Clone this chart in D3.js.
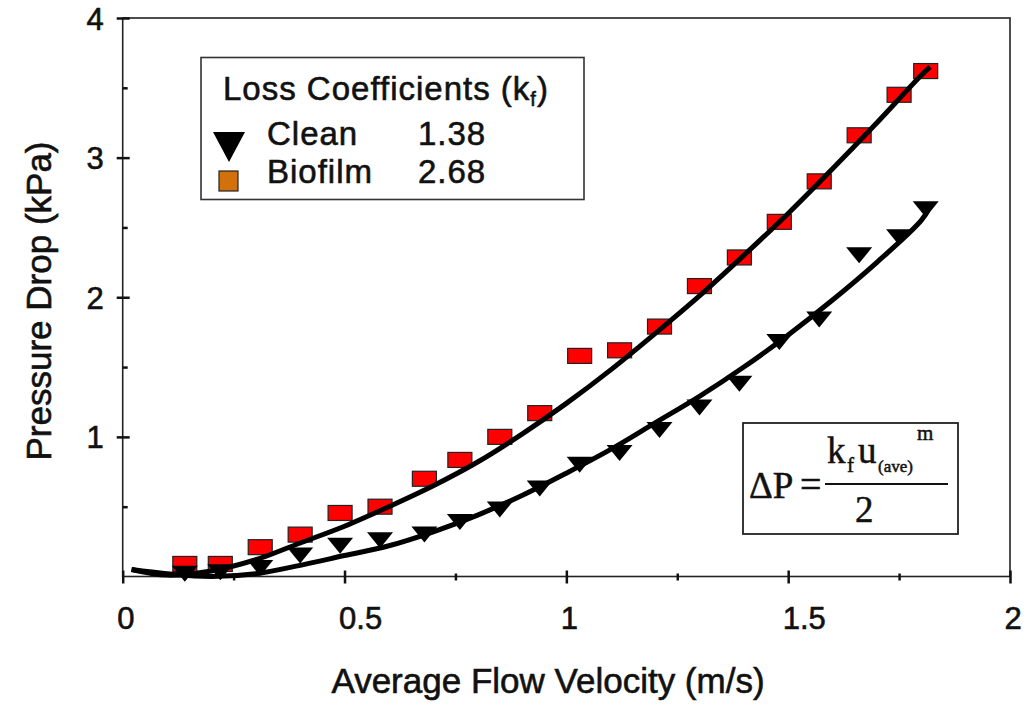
<!DOCTYPE html>
<html>
<head>
<meta charset="utf-8">
<script src="https://cdn.jsdelivr.net/npm/d3@7"></script>
<style>
    body { margin: 0; background: #fff; }
    text { font-family: "Liberation Sans", Arial, sans-serif; fill: #111; stroke: #111; stroke-width: 0.6px; }
    .serif { font-family: "Liberation Serif", "Times New Roman", serif; stroke-width: 0.5px; }
    .legend text { letter-spacing: 1px; }
</style>
</head>
<body>
<div id="chart"></div>
<script>
// measured points (m/s, kPa)
var velocity = [0.14, 0.22, 0.31, 0.40, 0.49, 0.58, 0.68, 0.76, 0.85, 0.94,
    1.03, 1.12, 1.21, 1.30, 1.39, 1.48, 1.57, 1.66, 1.75, 1.81];
var clean = [0.02, 0.03, 0.06, 0.15, 0.22, 0.26, 0.30, 0.39, 0.48, 0.63,
    0.80, 0.885, 1.05, 1.21, 1.38, 1.68, 1.84, 2.30, 2.43, 2.63];
var biofilm = [0.09, 0.09, 0.21, 0.30, 0.455, 0.50, 0.70, 0.835, 1.00, 1.17,
    1.58, 1.62, 1.79, 2.08, 2.285, 2.54, 2.83, 3.16, 3.45, 3.62];

// fitted curves
var fitVelocity = [0.02, 0.10, 0.20, 0.30, 0.40, 0.50, 0.60, 0.70, 0.80, 0.90,
    1.00, 1.10, 1.20, 1.30, 1.40, 1.50, 1.60, 1.70, 1.80, 1.82];
var cleanFit = [0.05, 0.02, 0.00, 0.02, 0.08, 0.15, 0.22, 0.32, 0.44, 0.58,
    0.74, 0.91, 1.10, 1.29, 1.50, 1.73, 1.98, 2.25, 2.55, 2.65];
var biofilmFit = [0.05, 0.01, 0.04, 0.12, 0.24, 0.36, 0.50, 0.65, 0.82, 1.02,
    1.24, 1.48, 1.74, 2.01, 2.30, 2.60, 2.92, 3.25, 3.59, 3.65];

var xMajor = [0, 0.5, 1, 1.5, 2],
    xMinor = [0.25, 0.75, 1.25, 1.75],
    yMajor = [1, 2, 3, 4],
    yMinor = [0.5, 1.5, 2.5, 3.5];

var legendRows = [
    {name: "Clean", k: "1.38"},
    {name: "Biofilm", k: "2.68"}
];

var width = 1034,
    height = 706;

var svg = d3.select("#chart")
    .append("svg")
    .attr("width", width)
    .attr("height", height);

var x = d3.scaleLinear().domain([0, 2]).range([122.7, 1010]);
var y = d3.scaleLinear().domain([0, 4]).range([576.5, 18]);

// frame
svg.append("rect")
    .attr("x", x(0)).attr("y", y(4))
    .attr("width", x(2) - x(0)).attr("height", y(0) - y(4))
    .attr("fill", "none").attr("stroke", "#222").attr("stroke-width", 1.6);

// x axis
var gx = svg.append("g")
    .attr("transform", "translate(0," + y(0) + ")")
    .call(d3.axisBottom(x).tickValues(xMajor).tickSize(6).tickFormat(d3.format("")));
gx.select(".domain").remove();
gx.selectAll("line").attr("y1", -6).attr("y2", 7).attr("stroke", "#111").attr("stroke-width", 2.5);
gx.selectAll("text")
    .attr("dy", null).attr("y", 52).attr("x", -6)
    .attr("text-anchor", "start")
    .style("font-size", "31px").attr("fill", "#111");

var gxm = svg.append("g")
    .attr("transform", "translate(0," + y(0) + ")")
    .call(d3.axisBottom(x).tickValues(xMinor).tickSize(4).tickFormat(""));
gxm.select(".domain").remove();
gxm.selectAll("line").attr("y1", -3).attr("y2", 4).attr("stroke", "#111").attr("stroke-width", 2.5);

// y axis
var gy = svg.append("g")
    .attr("transform", "translate(" + x(0) + ",0)")
    .call(d3.axisLeft(y).tickValues(yMajor).tickSize(6).tickFormat(d3.format("")));
gy.select(".domain").remove();
gy.selectAll("line").attr("x1", -6).attr("x2", 7).attr("stroke", "#111").attr("stroke-width", 2.5);
gy.selectAll("text")
    .attr("dy", null).attr("y", 11).attr("x", -19)
    .style("font-size", "31px").attr("fill", "#111");

var gym = svg.append("g")
    .attr("transform", "translate(" + x(0) + ",0)")
    .call(d3.axisLeft(y).tickValues(yMinor).tickSize(4).tickFormat(""));
gym.select(".domain").remove();
gym.selectAll("line").attr("x1", 0).attr("x2", 5).attr("stroke", "#111").attr("stroke-width", 2.5);

// axis titles
svg.append("text")
    .attr("x", 548).attr("y", 693)
    .attr("text-anchor", "middle")
    .style("font-size", "35px")
    .text("Average Flow Velocity (m/s)");

svg.append("text")
    .attr("transform", "translate(51,301) rotate(-90)")
    .attr("text-anchor", "middle")
    .style("font-size", "35px")
    .text("Pressure Drop (kPa)");

// markers
svg.selectAll(".bio")
    .data(velocity)
    .enter()
    .append("rect")
    .attr("class", "bio")
    .attr("x", function (d) { return x(d) - 12 })
    .attr("y", function (d, i) { return y(biofilm[i]) - 7.5 })
    .attr("width", 24).attr("height", 15)
    .attr("fill", "#ff0000").attr("stroke", "#222").attr("stroke-width", 1.2);

svg.selectAll(".clean")
    .data(velocity)
    .enter()
    .append("path")
    .attr("class", "clean")
    .attr("d", "M-13,-8L13,-8L0,8Z")
    .attr("transform", function (d, i) {
        return "translate(" + x(d) + "," + y(clean[i]) + ")";
    })
    .attr("fill", "#000");

// fit lines
var line = d3.line()
    .x(function (d) { return x(d[0]) })
    .y(function (d) { return y(d[1]) })
    .curve(d3.curveCatmullRom.alpha(0.5));

svg.append("path")
    .attr("d", line(d3.zip(fitVelocity, biofilmFit)))
    .attr("fill", "none").attr("stroke", "#000").attr("stroke-width", 5);
svg.append("path")
    .attr("d", line(d3.zip(fitVelocity, cleanFit)))
    .attr("fill", "none").attr("stroke", "#000").attr("stroke-width", 5);

// legend
var lg = svg.append("g").attr("class", "legend");
lg.append("rect")
    .attr("x", 201).attr("y", 57.5).attr("width", 383).attr("height", 142)
    .attr("fill", "#fff").attr("stroke", "#333").attr("stroke-width", 1.6);

var title = lg.append("text").attr("x", 223).attr("y", 100).style("font-size", "33px");
title.append("tspan").text("Loss Coefficients (k");
title.append("tspan").attr("dy", 6).style("font-size", "20px").text("f");
title.append("tspan").attr("dy", -6).text(")");

lg.append("path")
    .attr("d", "M-16,-15L16,-15L0,15Z")
    .attr("transform", "translate(229,147)")
    .attr("fill", "#000");
lg.append("rect")
    .attr("x", 219).attr("y", 171).attr("width", 19).attr("height", 20)
    .attr("fill", "#d2700a").attr("stroke", "#222").attr("stroke-width", 1.2);

lg.selectAll(".lname")
    .data(legendRows)
    .enter()
    .append("text")
    .attr("x", 267)
    .attr("y", function (d, i) { return 145 + i * 38 })
    .style("font-size", "33px")
    .text(function (d) { return d.name });
lg.selectAll(".lk")
    .data(legendRows)
    .enter()
    .append("text")
    .attr("x", 418)
    .attr("y", function (d, i) { return 145 + i * 38 })
    .style("font-size", "33px")
    .text(function (d) { return d.k });

// equation box
var eq = svg.append("g");
eq.append("rect")
    .attr("x", 743).attr("y", 423).attr("width", 215).attr("height", 111)
    .attr("fill", "#fff").attr("stroke", "#222").attr("stroke-width", 1.8);
eq.append("text").attr("class", "serif").attr("x", 749).attr("y", 498)
    .style("font-size", "37px").text("ΔP");
eq.append("text").attr("class", "serif").attr("x", 800).attr("y", 497)
    .style("font-size", "38px").text("=");
eq.append("line")
    .attr("x1", 825).attr("x2", 948).attr("y1", 484).attr("y2", 484)
    .attr("stroke", "#111").attr("stroke-width", 2);
eq.append("text").attr("class", "serif").attr("x", 827).attr("y", 463)
    .style("font-size", "37px").text("k");
eq.append("text").attr("class", "serif").attr("x", 847).attr("y", 472)
    .style("font-size", "21px").text("f");
eq.append("text").attr("class", "serif").attr("x", 858).attr("y", 463)
    .style("font-size", "37px").text("u");
eq.append("text").attr("class", "serif").attr("x", 878).attr("y", 472)
    .style("font-size", "17px").text("(ave)");
eq.append("text").attr("class", "serif").attr("x", 917).attr("y", 440)
    .style("font-size", "21px").text("m");
eq.append("text").attr("class", "serif").attr("x", 855).attr("y", 522)
    .style("font-size", "37px").text("2");
</script>
</body>
</html>
